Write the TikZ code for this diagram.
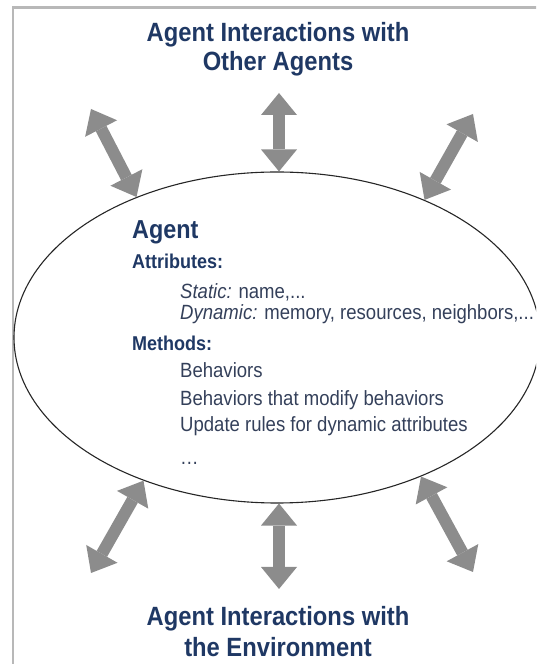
\documentclass[tikz,border=0pt]{standalone}
\usepackage{fontspec}
\setmainfont{Liberation Sans}[FakeStretch=0.9]
\usetikzlibrary{arrows.meta,shapes.geometric}
\definecolor{navy}{HTML}{1F3864}
\definecolor{bodytext}{HTML}{34405A}
\definecolor{arrowgray}{HTML}{8C8C8C}
\definecolor{framegray}{HTML}{B8B8B8}

\begin{document}
\begin{tikzpicture}[x=1pt,y=1pt,
  titletext/.style={anchor=base, inner sep=0pt, text=navy,
    font=\fontsize{26.4}{30}\selectfont\bfseries},
  classname/.style={anchor=base west, inner sep=0pt, text=navy,
    font=\fontsize{26}{30}\selectfont\bfseries},
  heading/.style={anchor=base west, inner sep=0pt, text=navy,
    font=\fontsize{20}{24}\selectfont\bfseries},
  item/.style={anchor=base west, inner sep=0pt, text=bodytext,
    font=\fontsize{20.6}{24}\selectfont},
  fattip/.style={Triangle[width=36pt,length=22pt,line width=0pt]},
  biarrow/.style={arrowgray, line width=12pt, {Triangle[width=36pt,length=22pt,line width=0pt]}-{Triangle[width=36pt,length=22pt,line width=0pt]}},
]
\useasboundingbox (0,0) rectangle (536,664);
\clip (0,0) rectangle (536,664);

% outer frame
\draw[framegray, line width=2.5pt] (13,0) -- (13,656.5) -- (540,656.5);

% the agent
\node[draw=black!85, line width=1.1pt, ellipse, minimum width=526pt,
      minimum height=331pt, inner sep=0pt] (agent) at (277,326.5) {};

\node[classname] (name) at (132,425) {Agent};
\node[heading] (attr) at (132,395) {Attributes:};
\node[item] (static) at (180,365) {\textit{Static:} name,...};
\node[item] (dynamic) at (180,344) {\textit{Dynamic:} memory, resources, neighbors,...};
\node[heading] (meth) at (132,313) {Methods:};
\node[item] (beh) at (180,286) {Behaviors};
\node[item] (behmod) at (180,258) {Behaviors that modify behaviors};
\node[item] (update) at (180,232) {Update rules for dynamic attributes};
\node[item] (more) at (180,199) {…};

% titles
\node[titletext] (top1) at (278,622.3) {Agent Interactions with};
\node[titletext] (top2) at (278,593) {Other Agents};
\node[titletext] (bot1) at (278,38) {Agent Interactions with};
\node[titletext] (bot2) at (278,8) {the Environment};

% interaction arrows
\coordinate (tlout) at (91,555);
\coordinate (tcout) at (279,571);
\coordinate (trout) at (473,550);
\coordinate (blout) at (91,91);
\coordinate (bcout) at (279,75);
\coordinate (brout) at (473,92);

\draw[biarrow] (tlout) -- (agent.135);
\draw[biarrow] (tcout) -- (tcout |- agent.north);
\draw[biarrow] (trout) -- (agent.43);
\draw[biarrow] (blout) -- (agent.227);
\draw[biarrow] (bcout) -- (bcout |- agent.south);
\draw[biarrow] (brout) -- (agent.316);
\end{tikzpicture}
\end{document}
